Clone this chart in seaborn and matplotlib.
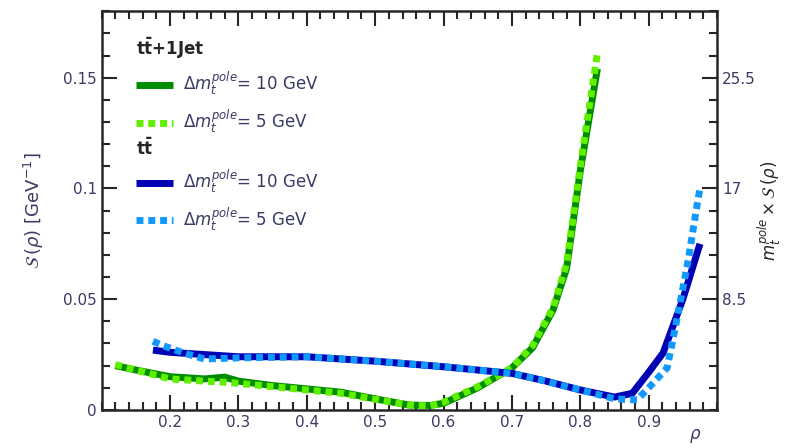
import numpy as np
import pandas as pd
import matplotlib
matplotlib.use("Agg")
import matplotlib.pyplot as plt
import seaborn as sns
from matplotlib.ticker import MultipleLocator, FixedLocator, FuncFormatter

# ----------------------
# Datos
# ----------------------
rho_ttj_10 = [0.12, 0.15, 0.20, 0.25, 0.28, 0.30, 0.35, 0.40, 0.45, 0.50, 0.55, 0.58, 0.60, 0.65, 0.70, 0.73, 0.76, 0.78, 0.80, 0.825]
s_ttj_10 = [0.020, 0.018, 0.015, 0.014, 0.0148, 0.013, 0.011, 0.0095, 0.008, 0.005, 0.0022, 0.002, 0.003, 0.010, 0.019, 0.028, 0.045, 0.064, 0.108, 0.154]

rho_ttj_5 = [0.12, 0.15, 0.20, 0.25, 0.28, 0.30, 0.35, 0.40, 0.45, 0.50, 0.55, 0.58, 0.60, 0.65, 0.70, 0.73, 0.76, 0.78, 0.80, 0.825]
s_ttj_5 = [0.0205, 0.018, 0.014, 0.013, 0.0125, 0.012, 0.0105, 0.009, 0.0075, 0.0048, 0.0022, 0.0018, 0.0035, 0.0105, 0.019, 0.029, 0.046, 0.066, 0.110, 0.161]

rho_tt_10 = [0.175, 0.20, 0.25, 0.30, 0.40, 0.50, 0.60, 0.70, 0.75, 0.80, 0.85, 0.876, 0.90, 0.921, 0.95, 0.975]
s_tt_10 = [0.027, 0.026, 0.025, 0.024, 0.024, 0.022, 0.0195, 0.0165, 0.013, 0.009, 0.0058, 0.0075, 0.017, 0.0257, 0.050, 0.075]

rho_tt_5 = [0.175, 0.19, 0.22, 0.25, 0.30, 0.40, 0.50, 0.60, 0.70, 0.75, 0.80, 0.85, 0.883, 0.90, 0.927, 0.942, 0.958, 0.971, 0.975]
s_tt_5 = [0.031, 0.029, 0.0257, 0.023, 0.0235, 0.024, 0.022, 0.0195, 0.0165, 0.013, 0.009, 0.005, 0.0045, 0.010, 0.019, 0.042, 0.068, 0.093, 0.100]

m_top = 170.0

sns.set_style("ticks")
plt.rcParams['font.family'] = ['DejaVu Sans']

fig = plt.figure(figsize=(7.88, 4.48), dpi=100)
ax = fig.add_axes([0.129, 0.085, 0.781, 0.89])

c_dgreen = "#008c00"
c_lgreen = "#5ff000"
c_dblue = "#0000b4"
c_lblue = "#1199ff"
dots = (0, (1.0, 0.7))

sns.lineplot(x=rho_ttj_10, y=s_ttj_10, ax=ax, color=c_dgreen, lw=5, sort=False, estimator=None,
             label=r"$\Delta m_t^{pole}$= 10 GeV")
sns.lineplot(x=rho_ttj_5, y=s_ttj_5, ax=ax, color=c_lgreen, lw=5, sort=False, estimator=None,
             linestyle=dots, label=r"$\Delta m_t^{pole}$= 5 GeV")
sns.lineplot(x=rho_tt_10, y=s_tt_10, ax=ax, color=c_dblue, lw=5, sort=False, estimator=None,
             label=r"$\Delta m_t^{pole}$= 10 GeV")
sns.lineplot(x=rho_tt_5, y=s_tt_5, ax=ax, color=c_lblue, lw=5, sort=False, estimator=None,
             linestyle=dots, label=r"$\Delta m_t^{pole}$= 5 GeV")
for ln in ax.get_lines():
    ln.set_dash_capstyle("butt")
    ln.set_solid_capstyle("butt")

ax.set_xlim(0.1, 1.0)
ax.set_ylim(0, 0.18)

tick_col = "#3a3a66"
ax.xaxis.set_major_locator(FixedLocator([0.2, 0.3, 0.4, 0.5, 0.6, 0.7, 0.8, 0.9]))
ax.xaxis.set_minor_locator(MultipleLocator(0.02))
ax.yaxis.set_major_locator(MultipleLocator(0.05))
ax.yaxis.set_minor_locator(MultipleLocator(0.01))
ax.yaxis.set_major_formatter(FuncFormatter(lambda v, p: "%g" % round(v, 3)))
ax.xaxis.set_major_formatter(FuncFormatter(lambda v, p: "%g" % round(v, 2)))
ax.tick_params(axis="both", which="both", direction="in", top=True, right=False,
               labelsize=11, labelcolor=tick_col, width=1.5)
ax.tick_params(which="major", length=11)
ax.tick_params(which="minor", length=6)
for s in ax.spines.values():
    s.set_linewidth(1.8)

ax.set_ylabel(r"$\mathcal{S}\,(\rho)$ [GeV$^{-1}$]", fontsize=13, color="#3a3a66", labelpad=12)
ax.set_xlabel(r"$\rho$", fontsize=12, color="#3a3a66", loc="right")
ax.xaxis.label.set_va("center")
ax.xaxis.set_label_coords(0.975, -0.065)

# eje derecho: m_t^pole x S(rho)
ax2 = ax.twinx()
ax2.set_ylim(0, 0.18 * m_top)
ax2.yaxis.set_major_locator(FixedLocator([8.5, 17, 25.5]))
ax2.yaxis.set_minor_locator(MultipleLocator(1.7))
ax2.yaxis.set_major_formatter(FuncFormatter(lambda v, p: "%g" % v))
ax2.tick_params(axis="y", which="both", direction="in", labelsize=11, labelcolor=tick_col, width=1.5)
ax2.tick_params(which="major", length=11)
ax2.tick_params(which="minor", length=6)
ax2.set_ylabel(r"$m_t^{pole} \times \mathcal{S}\,(\rho)$", fontsize=12, labelpad=0)
for s in ax2.spines.values():
    s.set_visible(False)

# leyendas
h, l = ax.get_legend_handles_labels()
leg1 = ax.legend(h[:2], l[:2], title=r"$\mathbf{t\bar{t}}$+1Jet", loc="upper left",
                 bbox_to_anchor=(0.045, 0.955), frameon=False, fontsize=12, alignment="left",
                 title_fontproperties={"size": 12, "weight": "bold"}, handlelength=2.2,
                 labelspacing=0.55, handletextpad=0.6, borderaxespad=0, labelcolor="#3a3a66")
ax.add_artist(leg1)
leg2 = ax.legend(h[2:], l[2:], title=r"$\mathbf{t\bar{t}}$", loc="upper left",
                 bbox_to_anchor=(0.045, 0.70), frameon=False, fontsize=12, alignment="left",
                 title_fontproperties={"size": 12, "weight": "bold"}, handlelength=2.2,
                 labelspacing=0.55, handletextpad=0.6, borderaxespad=0, labelcolor="#3a3a66")

fig.savefig("out.png", dpi=100)
